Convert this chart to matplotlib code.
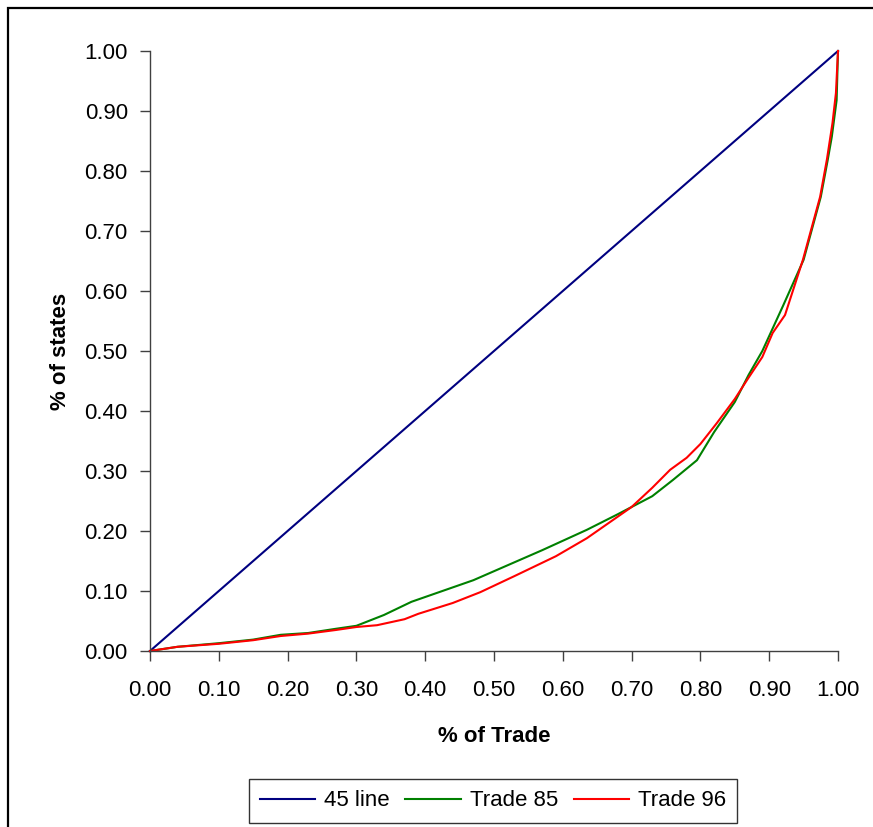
import matplotlib
matplotlib.use("Agg")
import matplotlib.pyplot as plt
from matplotlib.patches import Rectangle

plt.rcParams['font.family'] = ['Liberation Sans', 'DejaVu Sans']

line45_x = [0.0, 0.1, 0.2, 0.3, 0.4, 0.5, 0.6, 0.7, 0.8, 0.9, 1.0]
line45_y = [0.0, 0.1, 0.2, 0.3, 0.4, 0.5, 0.6, 0.7, 0.8, 0.9, 1.0]

trade85_x = [0, 0.04, 0.10, 0.15, 0.19, 0.23, 0.27, 0.30, 0.34, 0.38, 0.42, 0.47, 0.52, 0.57,
             0.635, 0.68, 0.70, 0.73, 0.76, 0.795, 0.82, 0.85, 0.87, 0.89, 0.92, 0.95, 0.975,
             0.985, 0.991, 0.998, 1.0]
trade85_y = [0, 0.007, 0.013, 0.019, 0.027, 0.030, 0.037, 0.042, 0.060, 0.082, 0.098, 0.118,
             0.143, 0.168, 0.202, 0.228, 0.240, 0.258, 0.285, 0.318, 0.365, 0.415, 0.46, 0.50,
             0.575, 0.652, 0.757, 0.818, 0.857, 0.918, 1.0]

trade96_x = [0, 0.04, 0.10, 0.15, 0.19, 0.23, 0.27, 0.30, 0.33, 0.37, 0.39, 0.44, 0.48, 0.53,
             0.59, 0.635, 0.70, 0.73, 0.756, 0.78, 0.80, 0.824, 0.85, 0.868, 0.89, 0.905, 0.923,
             0.949, 0.974, 0.984, 0.992, 0.997, 1.0]
trade96_y = [0, 0.007, 0.012, 0.018, 0.025, 0.029, 0.035, 0.040, 0.043, 0.053, 0.062, 0.080,
             0.098, 0.125, 0.158, 0.188, 0.240, 0.272, 0.302, 0.322, 0.345, 0.38, 0.42, 0.452,
             0.49, 0.53, 0.56, 0.652, 0.757, 0.82, 0.88, 0.93, 1.0]

ticks = [0.0, 0.1, 0.2, 0.3, 0.4, 0.5, 0.6, 0.7, 0.8, 0.9, 1.0]
tick_labels = ["0.00", "0.10", "0.20", "0.30", "0.40", "0.50", "0.60", "0.70", "0.80", "0.90", "1.00"]

W, H = 873, 827
fig = plt.figure(figsize=(W / 100, H / 100), dpi=100)
ax = fig.add_axes([150 / W, 1 - 651 / H, (838 - 150) / W, (651 - 51) / H])

ax.plot(line45_x, line45_y, color="#000080", lw=1.5, label="45 line", clip_on=False)
ax.plot(trade85_x, trade85_y, color="#008000", lw=1.5, label="Trade 85", clip_on=False)
ax.plot(trade96_x, trade96_y, color="#FF0000", lw=1.5, label="Trade 96", clip_on=False)

ax.set_xlim(0, 1)
ax.set_ylim(0, 1)
ax.set_xticks(ticks)
ax.set_xticklabels(tick_labels)
ax.set_yticks(ticks)
ax.set_yticklabels(tick_labels)
ax.tick_params(direction="out", length=7, width=1, labelsize=16, color="#404040")
ax.tick_params(axis="x", pad=14)
ax.tick_params(axis="y", pad=9)
for s in ["top", "right"]:
    ax.spines[s].set_visible(False)
for s in ["left", "bottom"]:
    ax.spines[s].set_color("#404040")
    ax.spines[s].set_linewidth(1)

ax.set_xlabel("% of Trade", fontsize=16, fontweight="bold", labelpad=18)
ax.set_ylabel("% of states", fontsize=16, fontweight="bold", labelpad=10)

leg = fig.legend(loc="center", bbox_to_anchor=(493 / W, 1 - 801 / H), ncol=3,
                 fontsize=16, frameon=True, fancybox=False, edgecolor="black",
                 handlelength=2.5, columnspacing=0.7, handletextpad=0.4,
                 borderpad=0.5, borderaxespad=0)
leg.get_frame().set_linewidth(1.0)

fig.patches.append(Rectangle((8 / W, -0.1), 1.2, 1 - 8 / H + 0.1, transform=fig.transFigure,
                             fill=False, edgecolor="black", linewidth=1.6))

fig.savefig("out.png", dpi=100)
